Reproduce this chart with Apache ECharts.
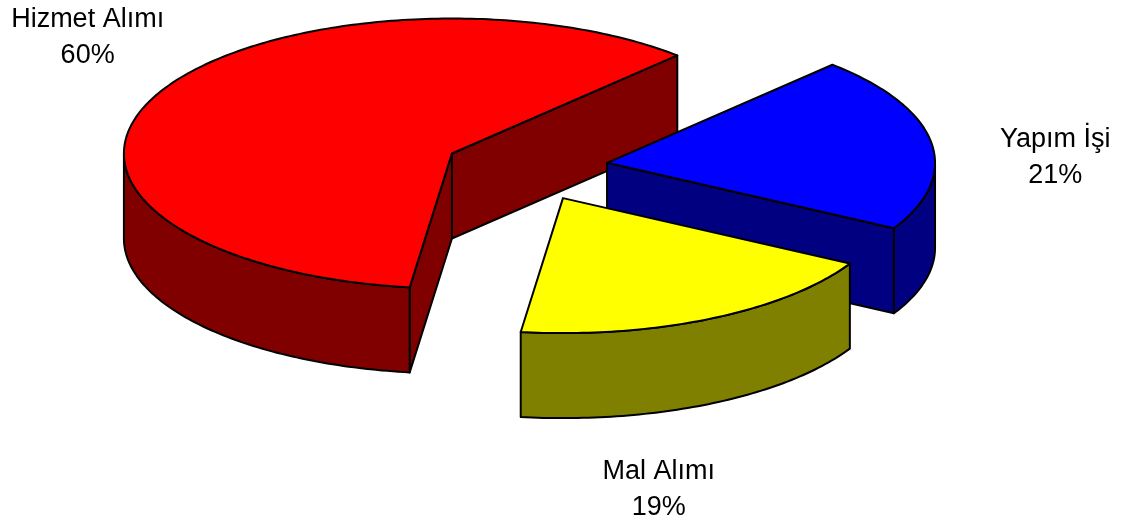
<!DOCTYPE html>
<html><head><meta charset="utf-8">
<script src="https://cdn.jsdelivr.net/npm/echarts@6/dist/echarts.min.js"></script>
<style>html,body{margin:0;padding:0;background:#fff}#c{width:1127px;height:531px}</style>
</head><body><div id="c"></div>
<script>
// ---- data ----
const categories = ['Hizmet Alımı', 'Yapım İşi', 'Mal Alımı'];
const values = [60, 21, 19];
const topColors = ['#FF0000', '#0000FF', '#FFFF00'];
const sideColors = ['#800000', '#000080', '#808000'];

// ---- layout (pixels / degrees) ----
const layout = { cx: 526, cy: 168, rx: 328, ry: 135, depth: 85, explode: 0.25, startDeg: 97.4 };
const labelShift = [[-68, -101], [124, -27], [-52, 128]];

const total = values.reduce((a, b) => a + b, 0);
const D = Math.PI / 180;

function renderItem(params, api) {
  const i = params.dataIndex;
  const v = api.value(0);
  let before = 0;
  for (let k = 0; k < i; k++) before += values[k];
  const a = layout.startDeg + before / total * 360;
  const b = a + v / total * 360;
  const m = (a + b) / 2;
  const ox = layout.cx + layout.explode * layout.rx * Math.cos(m * D);
  const oy = layout.cy + layout.explode * layout.ry * Math.sin(m * D);
  const h = layout.depth;
  const P = (deg, dz) => [ox + layout.rx * Math.cos(deg * D), oy + layout.ry * Math.sin(deg * D) + (dz || 0)];
  const arc = (s, e, dz) => {
    const n = Math.max(2, Math.ceil(e - s));
    const pts = [];
    for (let j = 0; j <= n; j++) pts.push(P(s + (e - s) * j / n, dz));
    return pts;
  };
  const side = { fill: sideColors[i], stroke: '#000', lineWidth: 2, lineJoin: 'round' };
  const children = [];
  // radial cut faces (only those turned toward the viewer)
  if (Math.cos(a * D) < 0) {
    const r = P(a);
    children.push({ type: 'polygon', shape: { points: [[ox, oy], r, [r[0], r[1] + h], [ox, oy + h]] }, style: side });
  }
  if (Math.cos(b * D) > 0) {
    const r = P(b);
    children.push({ type: 'polygon', shape: { points: [[ox, oy], r, [r[0], r[1] + h], [ox, oy + h]] }, style: side });
  }
  // outer curved wall, front half only
  for (const k of [-360, 0, 360]) {
    const s = Math.max(a, k), e = Math.min(b, k + 180);
    if (e > s) {
      const top = arc(s, e, 0), bot = arc(s, e, h).reverse();
      children.push({ type: 'polygon', shape: { points: top.concat(bot) }, style: side });
    }
  }
  // top face
  children.push({ type: 'polygon', shape: { points: [[ox, oy]].concat(arc(a, b, 0)) },
    style: { fill: topColors[i], stroke: '#000', lineWidth: 2, lineJoin: 'round' } });
  // label
  const anc = P(m, h / 2);
  const pct = Math.round(v / total * 100);
  children.push({ type: 'text', style: {
    text: categories[i] + '\n' + pct + '%',
    x: anc[0] + labelShift[i][0], y: anc[1] + labelShift[i][1],
    align: 'center', verticalAlign: 'middle',
    font: '27px "Liberation Sans", Arial, sans-serif', lineHeight: 36, fill: '#000'
  } });
  return { type: 'group', children };
}

const chart = echarts.init(document.getElementById('c'), null, { renderer: 'canvas' });
chart.setOption({
  backgroundColor: '#fff',
  animation: false,
  series: [{
    type: 'custom',
    coordinateSystem: 'none',
    silent: true,
    renderItem,
    data: values.map((v, i) => ({ value: v, name: categories[i] }))
  }]
});
</script>
</body></html>
